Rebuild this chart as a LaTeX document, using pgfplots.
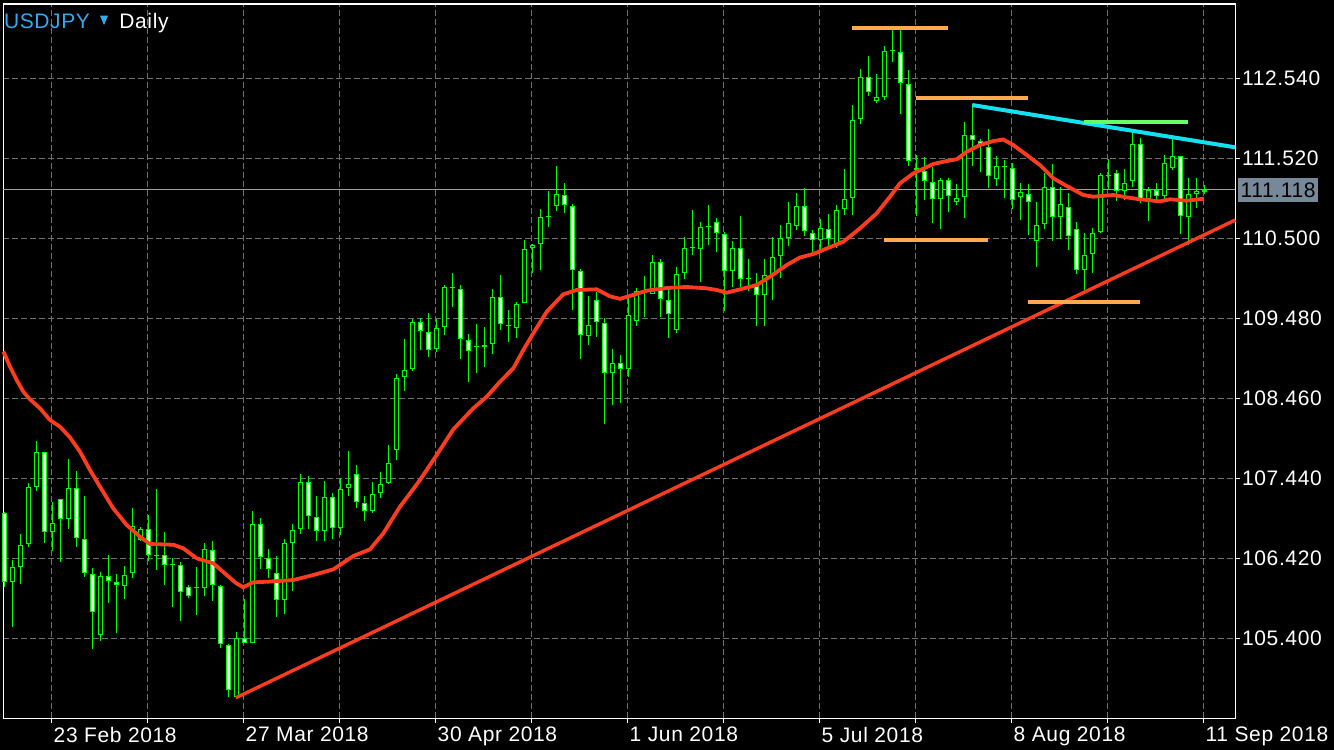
\documentclass[border=0pt]{standalone}
\usepackage{fontspec}
\setmainfont[LetterSpace=3]{Liberation Sans}
\usepackage{pgfplots}
\usepackage{pgfplotstable}
\pgfplotsset{compat=1.18}
\definecolor{cgreen}{RGB}{0,255,0}
\definecolor{mared}{RGB}{255,60,30}
\definecolor{cyanl}{RGB}{20,225,240}
\definecolor{orl}{RGB}{255,168,80}
\definecolor{greenl}{RGB}{102,255,102}
\definecolor{usdblue}{RGB}{52,170,235}
\definecolor{boxgray}{RGB}{119,136,153}
\definecolor{gridc}{RGB}{112,112,112}
\pgfplotstableread{
k o h l c
0 106.997 107.010 106.054 106.118
1 106.121 106.398 105.548 106.305
2 106.313 106.730 106.092 106.585
3 106.598 107.376 106.568 107.325
4 107.325 107.911 107.282 107.771
5 107.771 107.775 106.611 106.751
6 106.751 107.138 106.517 106.866
7 107.180 107.180 106.376 106.917
8 106.917 107.686 106.793 107.312
9 107.312 107.533 106.568 106.675
10 106.662 107.214 106.185 106.228
11 106.216 106.292 105.259 105.731
12 105.438 106.241 105.361 106.190
13 106.190 106.458 105.854 106.126
14 106.114 106.220 105.463 106.075
15 106.063 106.322 105.897 106.203
16 106.228 107.057 106.165 106.828
17 106.649 106.815 106.636 106.789
18 106.789 106.968 106.381 106.458
19 106.449 107.299 106.267 106.449
20 106.458 106.751 106.075 106.330
21 106.330 106.420 105.795 106.330
22 106.330 106.369 105.616 105.986
23 106.050 106.075 105.910 105.935
24 106.045 106.305 105.693 106.045
25 106.037 106.611 105.935 106.534
26 106.522 106.636 105.882 106.075
27 106.063 106.075 105.272 105.323
28 105.310 105.323 104.647 104.737
29 104.647 105.476 104.647 105.400
30 105.400 105.897 105.336 105.336
31 105.336 107.019 105.336 106.853
32 106.853 106.930 106.279 106.432
33 106.420 106.534 106.165 106.279
34 106.228 106.445 105.667 105.884
35 105.884 106.662 105.706 106.611
36 106.611 106.853 105.999 106.777
37 106.789 107.491 106.726 107.389
38 107.389 107.465 106.789 106.955
39 106.942 107.210 106.636 106.764
40 106.764 107.401 106.636 107.197
41 107.197 107.248 106.662 106.802
42 106.802 107.440 106.713 107.299
43 107.312 107.784 107.210 107.363
44 107.491 107.605 107.057 107.134
45 107.121 107.210 106.891 107.019
46 107.019 107.389 106.993 107.236
47 107.248 107.516 107.185 107.363
48 107.376 107.860 107.363 107.631
49 107.797 108.766 107.669 108.715
50 108.727 109.212 108.559 108.817
51 108.829 109.467 108.804 109.429
52 109.429 109.480 109.079 109.314
53 109.301 109.543 108.982 109.072
54 109.084 109.467 109.046 109.352
55 109.365 109.900 109.263 109.875
56 109.870 110.053 109.620 109.870
57 109.849 109.900 108.957 109.212
58 109.199 109.276 108.664 109.059
59 109.118 109.403 108.778 109.118
60 109.135 109.365 108.855 109.110
61 109.148 109.849 109.021 109.747
62 109.747 110.028 109.327 109.403
63 109.385 109.582 109.174 109.385
64 109.352 109.684 109.225 109.658
65 109.671 110.474 109.671 110.359
66 110.372 110.423 110.053 110.410
67 110.423 110.869 110.092 110.767
68 110.767 111.099 110.640 110.767
69 110.908 111.418 110.844 111.061
70 111.048 111.201 110.818 110.920
71 110.908 110.933 109.582 110.092
72 110.079 110.104 108.965 109.263
73 109.250 109.760 109.135 109.390
74 109.709 109.811 109.245 109.429
75 109.416 109.480 108.128 108.778
76 108.778 109.088 108.370 108.906
77 108.906 109.008 108.404 108.829
78 108.829 109.735 108.735 109.518
79 109.449 109.862 109.388 109.824
80 109.802 110.015 109.492 109.802
81 109.786 110.283 109.786 110.194
82 110.194 110.232 109.492 109.722
83 109.709 109.837 109.225 109.531
84 109.327 110.130 109.288 110.041
85 110.053 110.512 109.977 110.372
86 110.372 110.857 110.291 110.372
87 110.359 110.704 109.939 110.640
88 110.648 110.920 110.410 110.648
89 110.704 110.755 110.321 110.563
90 110.551 110.576 109.569 110.079
91 110.079 110.461 109.875 110.372
92 110.372 110.780 109.875 109.977
93 109.985 110.232 109.824 109.985
94 109.888 110.053 109.385 109.773
95 109.773 110.232 109.385 110.028
96 110.028 110.512 109.709 110.257
97 110.270 110.665 109.990 110.500
98 110.500 110.959 110.398 110.691
99 110.653 111.073 110.602 110.908
100 110.908 111.147 110.535 110.589
101 110.563 110.612 110.300 110.474
102 110.474 110.742 110.347 110.627
103 110.614 110.806 110.372 110.487
104 110.423 110.920 110.372 110.857
105 110.869 111.379 110.793 110.997
106 111.010 112.199 110.793 112.004
107 112.017 112.654 111.953 112.552
108 112.552 112.820 112.310 112.361
109 112.246 112.591 112.221 112.297
110 112.297 112.948 112.259 112.884
111 112.884 113.156 112.744 112.884
112 112.871 113.181 112.081 112.476
113 112.463 112.642 111.418 111.481
114 111.392 111.558 110.780 111.367
115 111.354 111.532 110.984 111.226
116 111.214 111.405 110.691 110.997
117 110.997 111.265 110.614 111.239
118 111.239 111.265 110.831 111.035
119 110.959 111.188 110.920 111.010
120 111.022 111.979 110.755 111.813
121 111.813 112.208 111.418 111.749
122 111.736 111.766 111.341 111.685
123 111.660 111.889 111.137 111.290
124 111.252 111.545 111.170 111.418
125 111.409 111.498 111.020 111.409
126 111.392 111.456 110.869 110.984
127 111.022 111.201 110.729 111.086
128 111.068 111.188 110.538 110.959
129 110.461 110.959 110.130 110.665
130 110.678 111.328 110.614 111.150
131 111.150 111.443 110.461 110.767
132 110.767 111.150 110.487 110.933
133 110.895 111.073 110.347 110.525
134 110.614 110.704 110.041 110.092
135 110.092 110.563 109.837 110.283
136 110.296 110.627 110.053 110.563
137 110.576 111.328 110.563 111.303
138 111.290 111.507 111.124 111.290
139 111.328 111.367 110.971 111.099
140 111.099 111.379 110.984 111.201
141 111.226 111.838 111.150 111.698
142 111.698 111.775 110.946 110.997
143 110.997 111.150 110.716 111.112
144 111.112 111.201 110.997 111.035
145 111.035 111.558 110.984 111.456
146 111.392 111.762 111.367 111.545
147 111.545 111.545 110.551 110.780
148 110.767 111.265 110.410 111.061
149 111.061 111.265 110.882 111.099
150 111.095 111.175 111.070 111.118
}\candles
\begin{document}
\begin{tikzpicture}
\useasboundingbox (0,0) rectangle (667pt,-375pt);
\fill[black] (0,0) rectangle (667pt,-375pt);
\begin{axis}[
  at={(1.65pt,-359.15pt)}, anchor=south west,
  scale only axis, width=616pt, height=357.15pt,
  xmin=-0.125, xmax=153.875, ymin=104.380, ymax=113.487,
  axis line style={draw=white, line width=0.65pt},
  clip=false,
  xtick={5.875,17.875,29.875,41.875,53.875,65.875,77.875,89.875,101.875,113.875,125.875,137.875,149.875},
  xticklabels={23 Feb 2018,,27 Mar 2018,,30 Apr 2018,,1 Jun 2018,,5 Jul 2018,,8 Aug 2018,,11 Sep 2018},
  ytick={105.4,106.42,107.44,108.46,109.48,110.5,111.52,112.54},
  yticklabels={105.400,106.420,107.440,108.460,109.480,110.500,111.520,112.540},
  xtick pos=bottom, ytick pos=right, yticklabel pos=right,
  tick align=outside, major tick length=2.2pt,
  tick style={draw=white, line width=0.6pt},
  grid=major,
  major grid style={draw=gridc, dash pattern=on 3pt off 1.5pt, line width=0.5pt},
  ticklabel style={font=\fontsize{10.5}{12}\selectfont, text=white},
  x tick label style={anchor=north west, inner sep=0pt, xshift=1pt, yshift=-2pt},
  y tick label style={anchor=west, inner sep=0pt, xshift=1pt},
]
% current price line
\addplot[forget plot, draw=gray!75, line width=0.5pt] coordinates {(-0.125,111.118) (153.875,111.118)};
% wicks
\addplot[forget plot, draw=none, mark=none, error bars/.cd, y dir=plus, y explicit, error mark=none,
  error bar style={draw=cgreen, line width=0.55pt, solid}]
  table[x=k, y=l, y error expr=\thisrow{h}-\thisrow{l}] {\candles};
% body outlines
\addplot[forget plot, draw=none, mark=none, error bars/.cd, y dir=plus, y explicit, error mark=none,
  error bar style={draw=cgreen, line width=2.6pt, solid}]
  table[x=k, y expr={min(\thisrow{o},\thisrow{c})}, y error expr={max(abs(\thisrow{c}-\thisrow{o}),0.0128)}] {\candles};
% inner black (bull)
\addplot[forget plot, draw=none, mark=none, error bars/.cd, y dir=plus, y explicit, error mark=none,
  error bar style={draw=black, line width=1.6pt, solid}]
  table[x=k, y expr={min(\thisrow{o},\thisrow{c})+0.0128}, y error expr={max(abs(\thisrow{c}-\thisrow{o})-0.0256,0)}] {\candles};
% inner white (bear)
\addplot[forget plot, draw=none, mark=none, error bars/.cd, y dir=plus, y explicit, error mark=none,
  error bar style={draw=white, line width=1.6pt, solid}]
  table[x=k, y expr={min(\thisrow{o},\thisrow{c})+0.0128}, y error expr={(\thisrow{c}<\thisrow{o}) ? max(abs(\thisrow{c}-\thisrow{o})-0.0256,0) : 0}] {\candles};
% moving average
\addplot[forget plot, draw=mared, line width=1.9pt, mark=none] coordinates {
(-0.125,109.057) (-0.04,109.041) (0.71,108.863) (1.55,108.693) (2.375,108.544) (3.21,108.447)
(4.46,108.332) (5.71,108.183) (6.96,108.098) (8.21,107.962) (9.46,107.779) (10.71,107.546)
(11.96,107.333) (13.59,107.061) (15.3,106.844) (16.96,106.695) (18.21,106.602) (21.13,106.593)
(22.375,106.547) (24.05,106.420) (26.125,106.356) (27.8,106.207) (28.96,106.105) (29.875,106.050)
(31.125,106.114) (32.8,106.121) (36.125,106.143) (38.625,106.207) (41.125,106.279) (43.625,106.449)
(45.71,106.534) (47.375,106.738) (49.46,107.078) (51.96,107.418) (54.05,107.737) (56.125,108.064)
(58.625,108.332) (60.3,108.480) (61.96,108.671) (63.625,108.842) (64.875,109.076) (66.125,109.288)
(67.8,109.564) (69.875,109.786) (71.55,109.841) (74.05,109.849) (75.71,109.760) (76.96,109.728)
(78.59,109.777) (80.3,109.832) (82.8,109.866) (85.3,109.879) (87.8,109.862) (89.05,109.841)
(90.3,109.806) (91.96,109.849) (94.05,109.904) (95.71,110.010) (97.8,110.159) (99.46,110.255)
(101.125,110.300) (104.875,110.456) (106.96,110.627) (109.05,110.818) (110.71,111.030) (111.96,111.201)
(113.625,111.328) (116.125,111.447) (117.8,111.485) (119.05,111.507) (120.3,111.604) (121.96,111.689)
(123.625,111.740) (124.875,111.759) (126.125,111.689) (127.8,111.562) (129.46,111.434) (131.125,111.265)
(132.8,111.167) (134.875,111.052) (136.125,111.030) (138.625,111.052) (140.3,111.022) (141.96,110.997)
(144.46,110.971) (145.71,110.997) (147.8,110.979) (149.96,111.005)
};
% support trendline
\addplot[forget plot, draw=mared, line width=1.7pt, mark=none] coordinates {(28.96,104.642) (153.875,110.733)};
% resistance trendline
\addplot[forget plot, draw=cyanl, line width=2pt, mark=none] coordinates {(121.0,112.199) (153.875,111.660)};
% horizontal levels
\addplot[forget plot, draw=orl, line width=2pt, mark=none] coordinates {(105.96,113.181) (117.96,113.181)};
\addplot[forget plot, draw=orl, line width=2pt, mark=none] coordinates {(113.96,112.292) (127.96,112.292)};
\addplot[forget plot, draw=orl, line width=2pt, mark=none] coordinates {(109.96,110.478) (122.96,110.478)};
\addplot[forget plot, draw=orl, line width=2pt, mark=none] coordinates {(127.96,109.691) (141.96,109.691)};
\addplot[forget plot, draw=greenl, line width=2pt, mark=none] coordinates {(134.96,111.983) (147.96,111.983)};
% price box
\node[fill=boxgray, text=black, anchor=west, inner sep=0pt, minimum width=40pt, minimum height=11.7pt,
  font=\fontsize{10.5}{12}\selectfont, xshift=1.2pt] at (axis cs:153.875,111.118) {111.118};
\end{axis}
\node[anchor=base west, inner sep=0pt, text=usdblue, font=\fontsize{10.5}{12}\selectfont] at (1.8pt,-14.15pt) {USDJPY};
\fill[usdblue] (50pt,-7.85pt) -- (54pt,-7.85pt) -- (52pt,-12.5pt) -- cycle;
\node[anchor=base west, inner sep=0pt, text=white, font=\fontsize{10.5}{12}\selectfont] at (59.5pt,-14.15pt) {Daily};
\end{tikzpicture}
\end{document}
